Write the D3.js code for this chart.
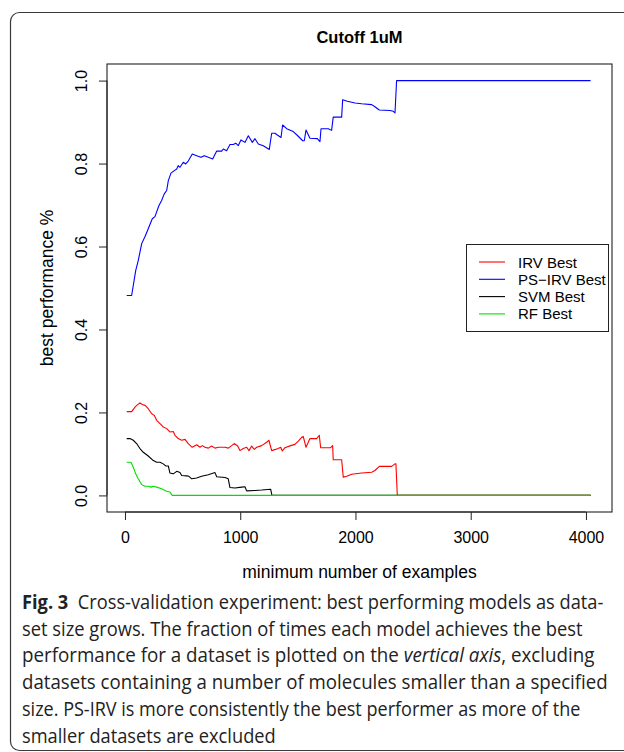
<!DOCTYPE html>
<html>
<head>
<meta charset="utf-8">
<script src="https://cdn.jsdelivr.net/npm/d3@7"></script>
<style>
  html, body { margin: 0; padding: 0; background: #fff; }
  svg { display: block; }
</style>
</head>
<body>
<svg id="chart" width="624" height="752"></svg>
<script>
// ---- Data ----
const chartTitle = "Cutoff 1uM";
const xLabel = "minimum number of examples";
const yLabel = "best performance %";
const xTicks = [0, 1000, 2000, 3000, 4000];
const yTicks = [0.0, 0.2, 0.4, 0.6, 0.8, 1.0];
const seriesNames = ["IRV Best", "PS\u2212IRV Best", "SVM Best", "RF Best"];
const seriesColors = ["#ff0000", "#0000ff", "#000000", "#00e000"];

const irvBest = [
  [15,0.202],[58,0.202],[87,0.213],[102,0.217],[130,0.223],[150,0.219],[174,0.217],[202,0.209],
  [232,0.197],[254,0.193],[275,0.181],[304,0.173],[332,0.165],[362,0.161],[390,0.153],[419,0.154],
  [434,0.145],[462,0.137],[492,0.133],[521,0.135],[549,0.125],[584,0.116],[622,0.122],[651,0.116],
  [671,0.120],[694,0.116],[723,0.114],[752,0.119],[781,0.114],[810,0.116],[839,0.116],[868,0.116],
  [896,0.114],[926,0.120],[948,0.125],[978,0.119],[998,0.108],[1026,0.113],[1056,0.116],[1076,0.108],
  [1099,0.119],[1122,0.111],[1143,0.116],[1186,0.120],[1229,0.128],[1249,0.133],[1273,0.108],
  [1330,0.113],[1351,0.116],[1365,0.107],[1388,0.115],[1438,0.120],[1475,0.123],[1504,0.131],
  [1533,0.140],[1547,0.142],[1571,0.116],[1605,0.137],[1663,0.137],[1686,0.145],[1698,0.115],
  [1785,0.115],[1802,0.120],[1807,0.086],[1880,0.086],[1894,0.044],[1924,0.046],[1967,0.051],
  [2054,0.054],[2141,0.056],[2169,0.060],[2207,0.070],[2314,0.070],[2343,0.076],[2351,0.076],
  [2363,0.0],[4040,0.0]
];

const psIrvBest = [
  [15,0.482],[58,0.482],[93,0.542],[115,0.566],[145,0.607],[174,0.624],[202,0.643],[237,0.667],
  [260,0.672],[295,0.699],[318,0.711],[341,0.727],[362,0.735],[376,0.759],[399,0.777],[428,0.783],
  [449,0.787],[462,0.795],[477,0.791],[506,0.803],[527,0.799],[549,0.806],[584,0.823],[622,0.819],
  [659,0.815],[688,0.819],[723,0.815],[761,0.811],[796,0.830],[839,0.830],[853,0.835],[882,0.831],
  [911,0.846],[940,0.846],[961,0.849],[983,0.843],[1006,0.857],[1041,0.851],[1070,0.867],[1105,0.851],
  [1128,0.860],[1157,0.847],[1200,0.843],[1252,0.834],[1273,0.873],[1302,0.873],[1316,0.870],
  [1354,0.863],[1368,0.893],[1403,0.884],[1460,0.877],[1499,0.867],[1542,0.855],[1556,0.855],
  [1571,0.881],[1605,0.861],[1669,0.860],[1692,0.853],[1701,0.884],[1764,0.884],[1793,0.880],
  [1807,0.912],[1880,0.912],[1889,0.954],[1929,0.950],[1996,0.946],[2054,0.944],[2141,0.942],
  [2169,0.937],[2207,0.929],[2299,0.928],[2328,0.926],[2343,0.922],[2357,1.0],[4040,1.0]
];

const svmBest = [
  [15,0.137],[43,0.137],[72,0.133],[101,0.125],[130,0.113],[159,0.104],[202,0.095],[246,0.084],
  [275,0.080],[304,0.080],[332,0.076],[353,0.071],[376,0.071],[390,0.054],[419,0.052],[449,0.058],
  [477,0.055],[492,0.048],[535,0.047],[555,0.046],[579,0.040],[622,0.042],[665,0.046],[723,0.050],
  [781,0.055],[796,0.045],[868,0.043],[896,0.040],[911,0.019],[954,0.018],[1013,0.020],[1041,0.021],
  [1056,0.011],[1128,0.012],[1186,0.013],[1264,0.015],[1275,0.0],[4040,0.0]
];

const rfBest = [
  [15,0.080],[52,0.080],[72,0.068],[93,0.052],[115,0.040],[145,0.026],[174,0.022],[202,0.022],
  [226,0.020],[246,0.022],[275,0.020],[318,0.016],[362,0.010],[390,0.008],[410,0.0],[4040,0.0]
];

const allSeries = [irvBest, psIrvBest, svmBest, rfBest];

const captionLines = [
  [{t:"Fig. 3", w:"bold"}, {t:"  Cross-validation experiment: best performing models as data-"}],
  [{t:"set size grows. The fraction of times each model achieves the best"}],
  [{t:"performance for a dataset is plotted on the "}, {t:"vertical axis", s:"italic"}, {t:", excluding"}],
  [{t:"datasets containing a number of molecules smaller than a specified"}],
  [{t:"size. PS-IRV is more consistently the best performer as more of the"}],
  [{t:"smaller datasets are excluded"}]
];
const captionRightEdges = [604, 583, 595, 608, 581, 276];

// ---- Drawing ----
const svg = d3.select("#chart");
const font = "'Liberation Sans', Arial, Helvetica, sans-serif";

// outer figure frame (rounded)
svg.append("rect")
  .attr("x", 10.5).attr("y", 12.5).attr("width", 700).attr("height", 738)
  .attr("rx", 9).attr("ry", 9)
  .attr("fill", "none").attr("stroke", "#3a3a3a").attr("stroke-width", 1.2);

const box = {left: 107, right: 612, top: 64, bottom: 512};
const x = d3.scaleLinear().domain([-156, 4226]).range([box.left, box.right]);
const y = d3.scaleLinear().domain([-0.04, 1.04]).range([box.bottom, box.top]);

// plot box
svg.append("rect")
  .attr("x", box.left).attr("y", box.top)
  .attr("width", box.right - box.left).attr("height", box.bottom - box.top)
  .attr("fill", "none").attr("stroke", "#222").attr("stroke-width", 1.1);

// x axis
const xAxis = d3.axisBottom(x).tickValues(xTicks).tickFormat(d3.format("d"))
  .tickSize(8).tickSizeOuter(0).tickPadding(12);
const gx = svg.append("g").attr("transform", `translate(0,${box.bottom})`).call(xAxis);
gx.select(".domain").attr("d", `M${x(xTicks[0])},0H${x(xTicks[xTicks.length-1])}`).attr("stroke", "#222");
gx.selectAll(".tick line").attr("stroke", "#222");
gx.selectAll("text").attr("font-family", font).attr("font-size", 16).attr("fill", "#000");

// y axis
const yAxis = d3.axisLeft(y).tickValues(yTicks).tickFormat(d3.format(".1f"))
  .tickSize(8).tickSizeOuter(0).tickPadding(0);
const gy = svg.append("g").attr("transform", `translate(${box.left},0)`).call(yAxis);
gy.select(".domain").attr("d", `M0,${y(yTicks[0])}V${y(yTicks[yTicks.length-1])}`).attr("stroke", "#222");
gy.selectAll(".tick line").attr("stroke", "#222");
gy.selectAll(".tick text")
  .attr("x", null).attr("dy", null)
  .attr("transform", "translate(-20,0) rotate(-90)")
  .attr("text-anchor", "middle").attr("dominant-baseline", "auto")
  .attr("y", 0)
  .attr("font-family", font).attr("font-size", 16).attr("fill", "#000");

// lines
const line = d3.line().x(d => x(d[0])).y(d => y(d[1]));
allSeries.forEach((s, i) => {
  svg.append("path").datum(s)
    .attr("d", line)
    .attr("fill", "none")
    .attr("stroke", seriesColors[i])
    .attr("stroke-width", 1.1)
    .attr("stroke-linejoin", "round");
});

// title
svg.append("text")
  .attr("x", (box.left + box.right) / 2).attr("y", 43)
  .attr("text-anchor", "middle")
  .attr("font-family", font).attr("font-weight", "bold").attr("font-size", 16.5)
  .text(chartTitle);

// axis labels
svg.append("text")
  .attr("x", (box.left + box.right) / 2).attr("y", 578)
  .attr("text-anchor", "middle")
  .attr("font-family", font).attr("font-size", 17.5)
  .text(xLabel);
svg.append("text")
  .attr("transform", `translate(53,${(box.top + box.bottom) / 2}) rotate(-90)`)
  .attr("text-anchor", "middle")
  .attr("font-family", font).attr("font-size", 17.5)
  .text(yLabel);

// legend
const lg = {left: 466, top: 244, width: 142, height: 87};
svg.append("rect")
  .attr("x", lg.left + 0.5).attr("y", lg.top + 0.5)
  .attr("width", lg.width).attr("height", lg.height)
  .attr("fill", "#fff").attr("stroke", "#222").attr("stroke-width", 1);
seriesNames.forEach((name, i) => {
  const cy = 262 + i * 17.3;
  svg.append("line")
    .attr("x1", 479).attr("x2", 505).attr("y1", cy).attr("y2", cy)
    .attr("stroke", seriesColors[i]).attr("stroke-width", 1.1);
  svg.append("text")
    .attr("x", 518).attr("y", cy + 5.5)
    .attr("font-family", font).attr("font-size", 15)
    .text(name);
});

// caption
const capFont = "'Open Sans', 'Noto Sans', sans-serif";
captionLines.forEach((parts, i) => {
  const g = svg.append("g");
  const t = g.append("text")
    .attr("x", 0).attr("y", 0)
    .attr("font-family", capFont).attr("font-size", 19.5).attr("fill", "#222")
    .style("white-space", "pre");
  parts.forEach(p => {
    t.append("tspan")
      .attr("font-weight", p.w || "normal")
      .attr("font-style", p.s || "normal")
      .text(p.t);
  });
  const natural = t.node().getComputedTextLength();
  const target = captionRightEdges[i] - 22;
  const sx = natural > 0 ? target / natural : 1;
  g.attr("transform", `translate(22,${609 + i * 26.7}) scale(${sx},1)`);
});
</script>
</body>
</html>
